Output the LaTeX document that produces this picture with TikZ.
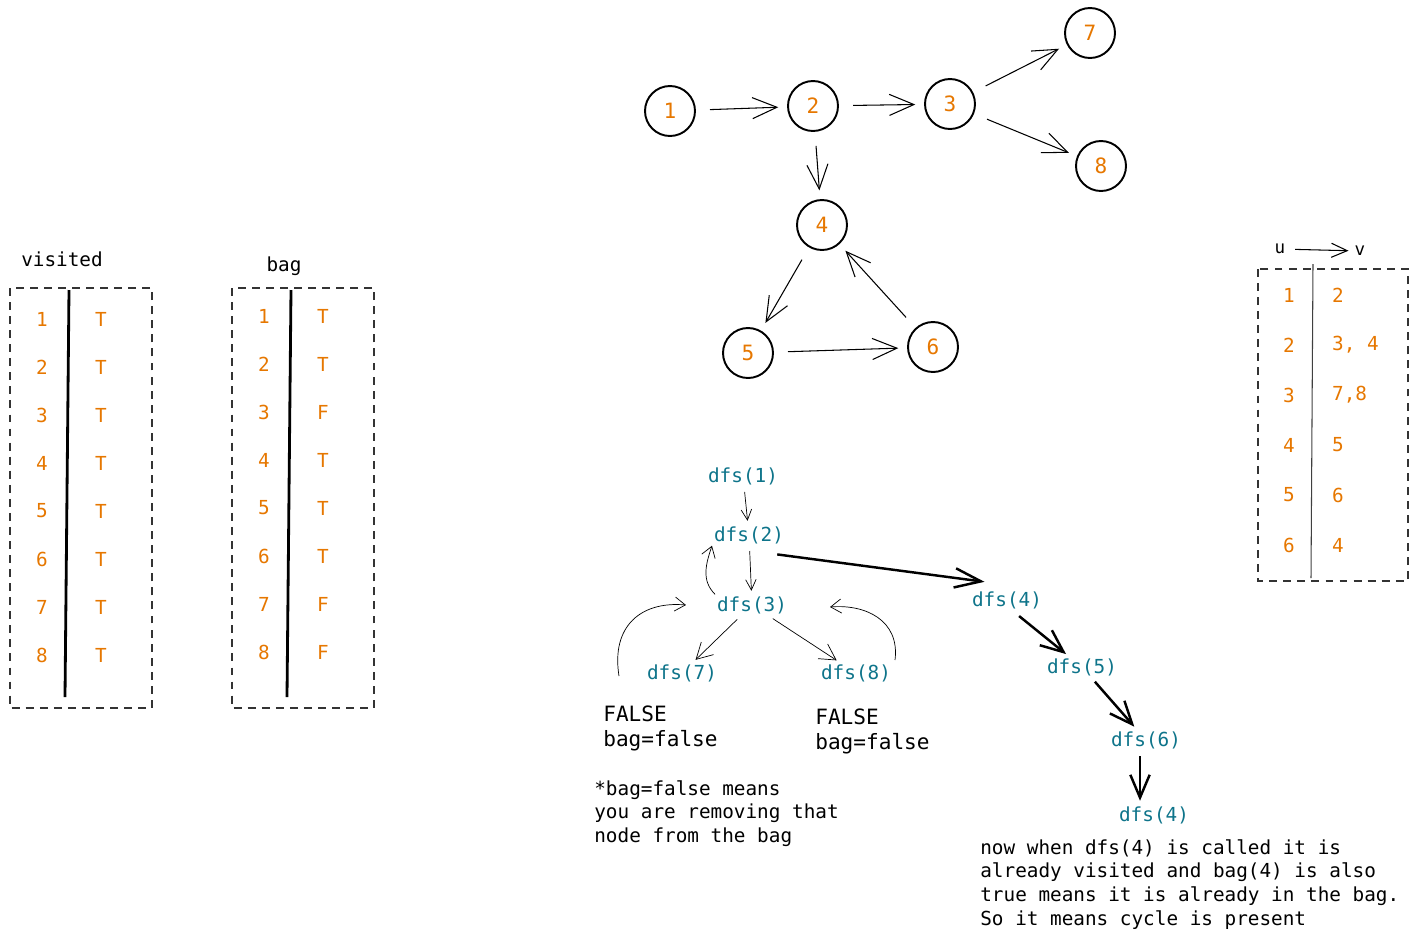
\documentclass[tikz,border=0pt]{standalone}
\usepackage{fontspec}
\setmonofont{DejaVu Sans Mono}
\usetikzlibrary{arrows.meta}
\definecolor{cus-orange}{RGB}{230, 119, 0}
\definecolor{cus-teal}{RGB}{14, 116, 138}
\tikzset{
	vert/.style={draw,circle,line width=1.1pt,minimum size=1cm,inner sep=0pt,text=cus-orange,font=\ttfamily\fontsize{12}{14}\selectfont},
	link/.style={-{Straight Barb[length=14pt,width=12pt]},semithick,shorten <=8pt,shorten >=5pt},
	call/.style={inner sep=1pt,text=cus-teal,font=\ttfamily\fontsize{11}{13}\selectfont},
	hop/.style={-{Straight Barb[length=6pt,width=6pt]},thin,shorten <=3pt,shorten >=2pt},
	jump/.style={-{Straight Barb[length=13pt,width=11pt]},line width=1.4pt,shorten <=3pt,shorten >=2pt},
	back/.style={-{Straight Barb[length=6pt,width=8pt]},thin},
	entry/.style={text=cus-orange,font=\ttfamily\fontsize{11}{13}\selectfont},
	heading/.style={font=\ttfamily\fontsize{11}{13}\selectfont},
	verdict/.style={align=left,anchor=north west,inner sep=0pt,font=\ttfamily\fontsize{12}{14.7}\selectfont},
	note/.style={align=left,anchor=north west,inner sep=0pt,font=\ttfamily\fontsize{11}{13.5}\selectfont},
	frame/.style={thick,black!80,dash pattern=on 4.5pt off 3.5pt},
}
% #1 name, #2 left x, #3 first row y, #4 title y, #5 title, #6 values
\newcommand{\flagtable}[6]{
	\draw [frame] (#2,288) rectangle ++(142,420);
	\draw [line width=1.6pt] (#2+59,290) -- (#2+55,697);
	\node [heading] (#1-title) at (#2+52,#4) {#5};
	\foreach \v [count=\i] in {#6}{
		\node [entry] (#1-key-\i) at (#2+32,{#3+48*(\i-1)}) {\i};
		\node [entry] (#1-val-\i) at (#2+91,{#3+48*(\i-1)}) {\v};
	}
}

\begin{document}
\begin{tikzpicture}[x=0.02cm,y=-0.02cm]
\useasboundingbox (0,0) rectangle (1417,941);

% the graph
\node [vert] (n1) at (670,111) {1};
\node [vert] (n2) at (813,106) {2};
\node [vert] (n3) at (950,104) {3};
\node [vert] (n7) at (1090,33) {7};
\node [vert] (n8) at (1101,166) {8};
\node [vert] (n4) at (822,225) {4};
\node [vert] (n5) at (748,353) {5};
\node [vert] (n6) at (933,347) {6};
\draw [link] (n1) -- (n2);
\draw [link] (n2) -- (n3);
\draw [link] (n2) -- (n4);
\draw [link] (n3) -- (n7);
\draw [link] (n3) -- (n8);
\draw [link] (n4) -- (n5);
\draw [link] (n5) -- (n6);
\draw [link] (n6) -- (n4);

% visited and bag
\flagtable{vis}{10}{319}{259}{visited}{T,T,T,T,T,T,T,T}
\flagtable{bag}{232}{316}{266}{bag}{T,T,F,T,T,T,F,F}

% adjacency list
\draw [frame] (1258,269) rectangle (1408,581);
\draw [semithick,black!75] (1313,264) -- (1311,578);
\node [heading,font=\ttfamily\fontsize{10}{12}\selectfont] (u) at (1280,249) {u};
\node [heading,font=\ttfamily\fontsize{10}{12}\selectfont] (v) at (1360,251) {v};
\draw [semithick,-{Straight Barb[length=9pt,width=8pt]},shorten <=2pt] (u) -- (v);
\foreach \a/\b [count=\i] in {1/2, 2/{3, 4}, 3/{7,8}, 4/5, 5/6, 6/4}{
	\node [entry] (adj-u-\i) at (1289,{295+50*(\i-1)}) {\a};
	\node [entry,anchor=west] (adj-v-\i) at (1326,{295+50*(\i-1)}) {\b};
}

% the calls
\node [call] (c1) at (743,476) {dfs(1)};
\node [call] (c2) at (749,535) {dfs(2)};
\node [call] (c3) at (752,605) {dfs(3)};
\node [call] (c7) at (682,673) {dfs(7)};
\node [call] (c8) at (856,673) {dfs(8)};
\node [call] (c4) at (1007,600) {dfs(4)};
\node [call] (c5) at (1082,667) {dfs(5)};
\node [call] (c6) at (1146,740) {dfs(6)};
\node [call] (c4b) at (1154,815) {dfs(4)};
\draw [hop] (c1) -- (c2);
\draw [hop] (c2) -- (c3);
\draw [hop,-{Straight Barb[length=9pt,width=10pt]}] (c3) -- (c7);
\draw [hop,-{Straight Barb[length=9pt,width=10pt]}] (c3) -- (c8);
\draw [jump,-{Straight Barb[length=15pt,width=11pt]}] ([shift={(-14,8)}]c2.south east) -- ([shift={(18,-7)}]c4.north west);
\draw [jump] ([shift={(8,2)}]c4.south) -- (c5);
\draw [jump] (c5) -- (c6);
\draw [jump] ([shift={(-6,0)}]c6.south) -- ([shift={(-14,0)}]c4b.north);

% returning calls
\coordinate (ret7) at ([shift={(-26,3)}]c7.west);
\coordinate (to3a) at ([shift={(-29,0)}]c3.west);
\coordinate (ret8) at ([shift={(2,-13)}]c8.east);
\coordinate (to3b) at ([shift={(41,2)}]c3.east);
\draw [back] (c3.north west) .. controls +(-14,-14) and +(-6,18) .. (c2.south west);
\draw [back] (ret7) .. controls +(-8,-50) and +(-45,-4) .. (to3a);
\draw [back] (ret8) .. controls +(5,-40) and +(35,-3) .. (to3b);

% notes
\node [verdict] (f7) at (603,705) {FALSE\\bag=false};
\node [verdict] (f8) at (815,708) {FALSE\\bag=false};
\node [note] (foot) at (594,780) {*bag=false means\\you are removing that\\node from the bag};
\node [note] (cycle) at (980,839) {now when dfs(4) is called it is\\already visited and bag(4) is also\\true means it is already in the bag.\\So it means cycle is present};
\end{tikzpicture}
\end{document}
